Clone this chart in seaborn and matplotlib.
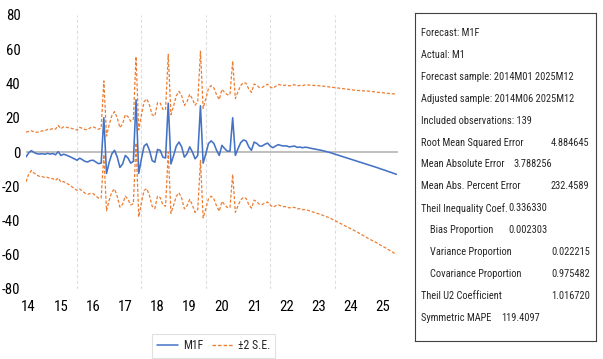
import numpy as np
import pandas as pd
import matplotlib
matplotlib.use("Agg")
import matplotlib.pyplot as plt
import matplotlib.font_manager as fm
from matplotlib.lines import Line2D
import seaborn as sns

# ---------------- data ----------------
start_month = "2014-06"
n_obs = 139

m1f = [
    -2.9, -0.5, 0.8, -0.3, -1.0, -1.2, -1.0, -1.3, -0.8, -1.2,
    -0.9, -1.6, 0.2, -2.0, -1.3, -1.8, -2.5, -3.2, -4.0, -4.8,
    -3.6, -4.5, -5.5, -5.8, -5.0, -4.8, -5.8, -6.8, -6.5, 20.0,
    -12.5, -6.0, -1.0, 1.0, -3.0, -9.0, -7.0, -2.0, -3.5, -6.5,
    -5.5, 30.5, -12.5, -4.0, 3.5, 4.8, 1.0, -5.0, -6.0, 1.5,
    1.0, -3.0, -3.5, 28.5, -7.0, -2.0, 3.5, 5.8, 3.0, -3.0,
    -1.0, 3.0, 0.0, -4.0, -2.0, 27.0, -6.5, -1.0, 5.0, 6.5,
    5.0, 1.0, -2.0, 3.9, 2.0, 0.5, 0.5, 20.0, -2.0, 2.0,
    5.5, 7.0, 6.5, 3.0, 1.0, 5.8, 5.0, 3.5, 3.5, 4.5,
    5.2, 3.5, 2.5, 3.5, 4.3, 3.8, 3.5, 3.6, 3.0, 3.2,
    3.5, 2.7, 2.9, 2.5, 2.8, 2.6, 2.2, 1.9, 1.6, 1.3,
    1.0, 0.6, 0.2, -0.2, -0.7, -1.2, -1.7, -2.2, -2.7, -3.2,
    -3.7, -4.2, -4.7, -5.2, -5.7, -6.2, -6.7, -7.2, -7.7, -8.2,
    -8.7, -9.2, -9.8, -10.3, -10.8, -11.4, -11.9, -12.5, -13.0,
]

two_se = [
    14.5, 12.5, 11.6, 12.0, 12.5, 13.0, 13.3, 13.6, 14.0, 14.3,
    14.6, 15.0, 15.3, 15.6, 16.0, 16.3, 16.6, 17.0, 17.3, 17.6,
    18.0, 18.3, 18.6, 18.9, 19.2, 19.5, 19.8, 20.1, 20.4, 21.5,
    21.8, 22.0, 22.3, 22.6, 22.9, 23.2, 23.5, 23.8, 24.1, 24.4,
    24.7, 25.2, 25.4, 25.6, 25.9, 26.2, 26.4, 26.7, 27.0, 27.3,
    27.6, 27.9, 28.2, 28.5, 28.8, 29.0, 29.3, 29.6, 29.9, 30.2,
    30.4, 30.7, 31.0, 31.3, 31.6, 31.9, 32.0, 32.1, 32.2, 32.3,
    32.4, 32.5, 32.6, 32.7, 32.8, 32.9, 33.0, 33.1, 33.2, 33.3,
    33.4, 33.5, 33.6, 33.7, 33.8, 33.9, 34.0, 34.1, 34.2, 34.3,
    34.4, 34.5, 34.7, 34.9, 35.1, 35.3, 35.4, 35.5, 35.6, 35.7,
    35.8, 35.9, 36.0, 36.2, 36.4, 36.6, 36.8, 37.0, 37.2, 37.4,
    37.6, 37.8, 38.0, 38.2, 38.5, 38.8, 39.1, 39.4, 39.7, 40.0,
    40.3, 40.6, 40.9, 41.2, 41.6, 42.0, 42.4, 42.8, 43.2, 43.5,
    43.8, 44.1, 44.5, 44.9, 45.2, 45.6, 46.0, 46.4, 46.8,
]

year_labels = ["14", "15", "16", "17", "18", "19", "20", "21", "22", "23", "24", "25"]
y_ticks = [80, 60, 40, 20, 0, -20, -40, -60, -80]

stat_lines = [
    ("Forecast: M1F", ""),
    ("Actual: M1", ""),
    ("Forecast sample: 2014M01 2025M12", ""),
    ("Adjusted sample: 2014M06 2025M12", ""),
    ("Included observations: 139", ""),
    ("Root Mean Squared Error", "4.884645"),
    ("Mean Absolute Error", "3.788256"),
    ("Mean Abs. Percent Error", "232.4589"),
    ("Theil Inequality Coef.", "0.336330"),
    ("Bias Proportion", "0.002303"),
    ("Variance Proportion", "0.022215"),
    ("Covariance Proportion", "0.975482"),
    ("Theil U2 Coefficient", "1.016720"),
    ("Symmetric MAPE", "119.4097"),
]
# --------------------------------------

dates = pd.date_range(start_month, periods=n_obs, freq="MS")
t = dates.year + (dates.month - 1) / 12.0
f = np.array(m1f)
s = np.array(two_se)
df = pd.DataFrame({"t": t, "M1F": f, "upper": f + s, "lower": f - s})

sns.set_style("white")

# choose a narrow font if one is installed
entries = fm.fontManager.ttflist
names = {e.name for e in entries}
STRETCH = "normal"
if "Liberation Sans Narrow" in names:
    FONT = ["Liberation Sans Narrow", "DejaVu Sans"]
elif "Roboto Condensed" in names:
    FONT = ["Roboto Condensed", "DejaVu Sans"]
elif any(e.name == "DejaVu Sans" and str(e.stretch) in ("condensed", "semi-condensed")
         for e in entries):
    FONT = ["DejaVu Sans"]
    STRETCH = "condensed"
else:
    FONT = ["Liberation Sans", "DejaVu Sans"]
plt.rcParams["font.family"] = FONT
plt.rcParams["font.stretch"] = STRETCH

W, H = 603, 359
fig = plt.figure(figsize=(W / 100, H / 100), dpi=100)
renderer = fig.canvas.get_renderer()


def px(x0, y0, x1, y1):
    return [x0 / W, 1 - y1 / H, (x1 - x0) / W, (y1 - y0) / H]


def fit_size(text, target_px, base=10.0):
    tt = fig.text(0, 0, text, fontsize=base, family=FONT, stretch=STRETCH)
    w = tt.get_window_extent(renderer).width
    tt.remove()
    return base * target_px / w


ax = fig.add_axes(px(26, 15, 398, 289))
BLUE = "#4472C4"
ORANGE = "#ED7D31"
DASH = (0, (2.5, 1.5))

for xg in [2016, 2018, 2020, 2022, 2024]:
    ax.axvline(xg, color="#DEDEDE", lw=0.8, ls=(0, (3, 2)), zorder=0)
ax.axhline(0, color="#BFBFBF", lw=1.4, zorder=1)

sns.lineplot(data=df, x="t", y="upper", ax=ax, color=ORANGE, lw=0.9,
             linestyle=DASH, zorder=2)
sns.lineplot(data=df, x="t", y="lower", ax=ax, color=ORANGE, lw=0.9,
             linestyle=DASH, zorder=2)
sns.lineplot(data=df, x="t", y="M1F", ax=ax, color=BLUE, lw=1.15, zorder=3)

tick_size = fit_size("80", 14.5)
ax.set_xlim(t[0], t[-1] + 0.05)
ax.set_ylim(-80, 80)
ax.set_xticks([2014.5 + k for k in range(len(year_labels))])
ax.set_xticklabels(year_labels)
ax.set_yticks(y_ticks)
ax.set_yticklabels([str(v) for v in y_ticks])
ax.tick_params(axis="both", length=0, labelsize=tick_size, colors="#000000")
ax.tick_params(axis="x", pad=8)
ax.tick_params(axis="y", pad=4)
ax.set_xlabel("")
ax.set_ylabel("")
for sp in ax.spines.values():
    sp.set_visible(False)

# legend
leg_size = fit_size("±2 S.E.", 32)
leg_px = leg_size * 100 / 72
handles = [Line2D([], [], color=BLUE, lw=1.1),
           Line2D([], [], color=ORANGE, lw=1.0, linestyle=DASH)]
leg = fig.legend(handles, ["M1F", "±2 S.E."], loc="upper left",
                 bbox_to_anchor=(152 / W, 1 - 334 / H), ncol=2,
                 frameon=True, fancybox=False,
                 prop={"size": leg_size, "family": FONT, "stretch": STRETCH},
                 handlelength=21 / leg_px, columnspacing=8 / leg_px,
                 handletextpad=5 / leg_px, borderpad=0.45, borderaxespad=0)
leg.get_frame().set_edgecolor("#D9D9D9")
leg.get_frame().set_linewidth(0.8)

# statistics box
bx = fig.add_axes(px(415, 13, 596, 341))
bx.set_xticks([])
bx.set_yticks([])
for sp in bx.spines.values():
    sp.set_visible(True)
    sp.set_color("#404040")
    sp.set_linewidth(0.8)

sizes = [fit_size("Forecast sample: 2014M01 2025M12", 145),
         fit_size("Included observations: 139", 110),
         fit_size("Root Mean Squared Error", 91),
         fit_size("Mean Abs. Percent Error", 103),
         fit_size("4.884645", 43)]
box_size = float(np.median(sizes))
value_x = {
    "Root Mean Squared Error": 551,
    "Mean Absolute Error": 513,
    "Mean Abs. Percent Error": 551,
    "Theil Inequality Coef.": 508,
    "Bias Proportion": 508,
    "Variance Proportion": 551,
    "Covariance Proportion": 551,
    "Theil U2 Coefficient": 551,
    "Symmetric MAPE": 501,
}
indented = {"Bias Proportion", "Variance Proportion", "Covariance Proportion"}
y0, dy = 33, 21.9
for k, (lab, val) in enumerate(stat_lines):
    yy = 1 - (y0 + k * dy) / H
    xl = 430 if lab in indented else 421
    fig.text(xl / W, yy, lab, ha="left", va="center", fontsize=box_size,
             family=FONT, stretch=STRETCH)
    if val:
        fig.text(value_x[lab] / W, yy, val, ha="left", va="center",
                 fontsize=box_size, family=FONT, stretch=STRETCH)

fig.savefig("out.png", dpi=100)
